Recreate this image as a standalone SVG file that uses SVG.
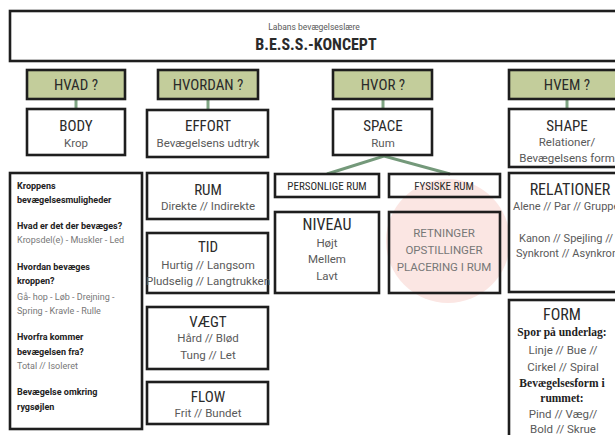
<svg xmlns="http://www.w3.org/2000/svg" width="615" height="435" viewBox="0 0 615 435">
<style>
.box{fill:none;stroke:#1e1e1e;stroke-width:2.6}
.wbox{fill:#fff;stroke:#1e1e1e;stroke-width:2.6}
.gbox{fill:#c3cd9b;stroke:#1e1e1e;stroke-width:2.6}
.t{font-family:"Liberation Sans Narrow","Roboto Condensed","Roboto",sans-serif;fill:#2a2a2a;text-anchor:middle}
.s{font-family:"Roboto","Liberation Sans",sans-serif;fill:#5a5a5a;text-anchor:middle;font-size:11.5px}
.b{font-family:"Roboto","Liberation Sans",sans-serif;fill:#222;font-weight:bold;font-size:9px}
.g{font-family:"Roboto","Liberation Sans",sans-serif;fill:#777;font-size:9px}
.sr{font-family:"Liberation Serif",serif;font-weight:bold;fill:#222;text-anchor:middle;font-size:11.5px}
.con{stroke:#7fa583;stroke-width:3;fill:none}
</style>
<rect width="615" height="435" fill="#fff"/>
<circle cx="448" cy="241" r="62" fill="#fbe6e3"/>

<g id="header">
<rect class="box" x="10" y="11" width="620" height="50"/>
<text class="s" x="314" y="30" style="font-size:8.5px">Labans bevægelseslære</text>
<text class="t" x="316" y="50" style="font-size:16px;font-weight:bold">B.E.S.S.-KONCEPT</text>
</g>

<g id="connectors">
<line class="con" x1="76" y1="99" x2="76" y2="109"/>
<line class="con" x1="208" y1="99" x2="208" y2="110"/>
<line class="con" x1="383" y1="99" x2="383" y2="109"/>
<line class="con" x1="567" y1="99" x2="567" y2="109"/>
<polyline class="con" points="327,174 384,156 450,174" style="stroke:#74997a"/>
</g>

<g id="hvad">
<rect class="gbox" x="27" y="70" width="98" height="29"/>
<text class="t" x="76" y="90" style="font-size:15px">HVAD ?</text>
</g>
<g id="hvordan">
<rect class="gbox" x="158" y="70" width="100" height="29"/>
<text class="t" x="208" y="90" style="font-size:15px">HVORDAN ?</text>
</g>
<g id="hvor">
<rect class="gbox" x="333" y="70" width="99" height="29"/>
<text class="t" x="383" y="90" style="font-size:15px">HVOR ?</text>
</g>
<g id="hvem">
<rect class="gbox" x="509" y="70" width="120" height="29"/>
<text class="t" x="567" y="90" style="font-size:15px">HVEM ?</text>
</g>

<g id="body">
<rect class="wbox" x="27" y="109" width="98" height="46"/>
<text class="t" x="76" y="131" style="font-size:15px">BODY</text>
<text class="s" x="76" y="147">Krop</text>
</g>
<g id="effort">
<rect class="wbox" x="147" y="110" width="121" height="47"/>
<text class="t" x="208" y="131" style="font-size:15px">EFFORT</text>
<text class="s" x="208" y="147">Bevægelsens udtryk</text>
</g>
<g id="space">
<rect class="wbox" x="333" y="109" width="99" height="46"/>
<text class="t" x="383" y="131" style="font-size:15px">SPACE</text>
<text class="s" x="383" y="147">Rum</text>
</g>
<g id="shape">
<rect class="wbox" x="509" y="109" width="120" height="58"/>
<text class="t" x="567" y="131" style="font-size:15px">SHAPE</text>
<text class="s" x="567" y="146">Relationer/</text>
<text class="s" x="567" y="162">Bevægelsens form</text>
</g>

<g id="body-details">
<rect class="wbox" x="10" y="173" width="132" height="256"/>
<text class="b" x="17" y="189">Kroppens</text>
<text class="b" x="17" y="203">bevægelsesmuligheder</text>
<text class="b" x="17" y="229">Hvad er det der bevæges?</text>
<text class="g" x="17" y="243">Kropsdel(e) - Muskler - Led</text>
<text class="b" x="17" y="270">Hvordan bevæges</text>
<text class="b" x="17" y="284">kroppen?</text>
<text class="g" x="17" y="300">Gå- hop - Løb - Drejning -</text>
<text class="g" x="17" y="314">Spring - Kravle - Rulle</text>
<text class="b" x="17" y="340">Hvorfra kommer</text>
<text class="b" x="17" y="355">bevægelsen fra?</text>
<text class="g" x="17" y="369">Total // Isoleret</text>
<text class="b" x="17" y="395">Bevægelse omkring</text>
<text class="b" x="17" y="410">rygsøjlen</text>
</g>

<g id="rum">
<rect class="wbox" x="147" y="173" width="121" height="46"/>
<text class="t" x="208" y="195" style="font-size:15px">RUM</text>
<text class="s" x="208" y="210">Direkte // Indirekte</text>
</g>
<g id="tid">
<rect class="wbox" x="147" y="233" width="121" height="60"/>
<text class="t" x="208" y="252" style="font-size:15px">TID</text>
<text class="s" x="208" y="269">Hurtig // Langsom</text>
<text class="s" x="208" y="285">Pludselig // Langtrukken</text>
</g>
<g id="vaegt">
<rect class="wbox" x="147" y="307" width="121" height="62"/>
<text class="t" x="208" y="327" style="font-size:15px">VÆGT</text>
<text class="s" x="208" y="342">Hård // Blød</text>
<text class="s" x="208" y="359">Tung // Let</text>
</g>
<g id="flow">
<rect class="wbox" x="147" y="382" width="121" height="42"/>
<text class="t" x="208" y="402" style="font-size:15px">FLOW</text>
<text class="s" x="208" y="417">Frit // Bundet</text>
</g>

<g id="personlige-rum">
<rect class="wbox" x="275" y="174" width="104" height="23"/>
<text class="t" x="327" y="190" style="font-size:11px">PERSONLIGE RUM</text>
</g>
<g id="fysiske-rum">
<rect class="box" x="389" y="174" width="111" height="23"/>
<text class="t" x="444" y="190" style="font-size:11px">FYSISKE RUM</text>
</g>
<g id="niveau">
<rect class="wbox" x="275" y="212" width="104" height="81"/>
<text class="t" x="327" y="230" style="font-size:16px">NIVEAU</text>
<text class="s" x="327" y="247">Højt</text>
<text class="s" x="327" y="263">Mellem</text>
<text class="s" x="327" y="280">Lavt</text>
</g>
<g id="retninger">
<rect class="box" x="389" y="212" width="111" height="81"/>
<text class="s" x="444" y="237" style="fill:#777">RETNINGER</text>
<text class="s" x="444" y="254" style="fill:#777">OPSTILLINGER</text>
<text class="s" x="444" y="271" style="fill:#777">PLACERING I RUM</text>
</g>

<g id="relationer">
<rect class="wbox" x="509" y="173" width="120" height="119"/>
<text class="t" x="570" y="195" style="font-size:16px">RELATIONER</text>
<text class="s" x="513" y="210" style="text-anchor:start;font-size:11px">Alene // Par // Gruppe</text>
<text class="s" x="566" y="242" style="font-size:11px">Kanon // Spejling //</text>
<text class="s" x="516" y="257" style="text-anchor:start;font-size:11px">Synkront  // Asynkront</text>
</g>
<g id="form">
<rect class="wbox" x="509" y="300" width="120" height="145"/>
<text class="t" x="562" y="320" style="font-size:16px">FORM</text>
<text class="sr" x="562" y="336">Spor på underlag:</text>
<text class="s" x="563" y="354">Linje // Bue //</text>
<text class="s" x="563" y="371">Cirkel  // Spiral</text>
<text class="sr" x="562" y="387">Bevægelsesform i</text>
<text class="sr" x="562" y="402">rummet:</text>
<text class="s" x="563" y="418">Pind // Væg//</text>
<text class="s" x="563" y="433">Bold // Skrue</text>
</g>
</svg>
